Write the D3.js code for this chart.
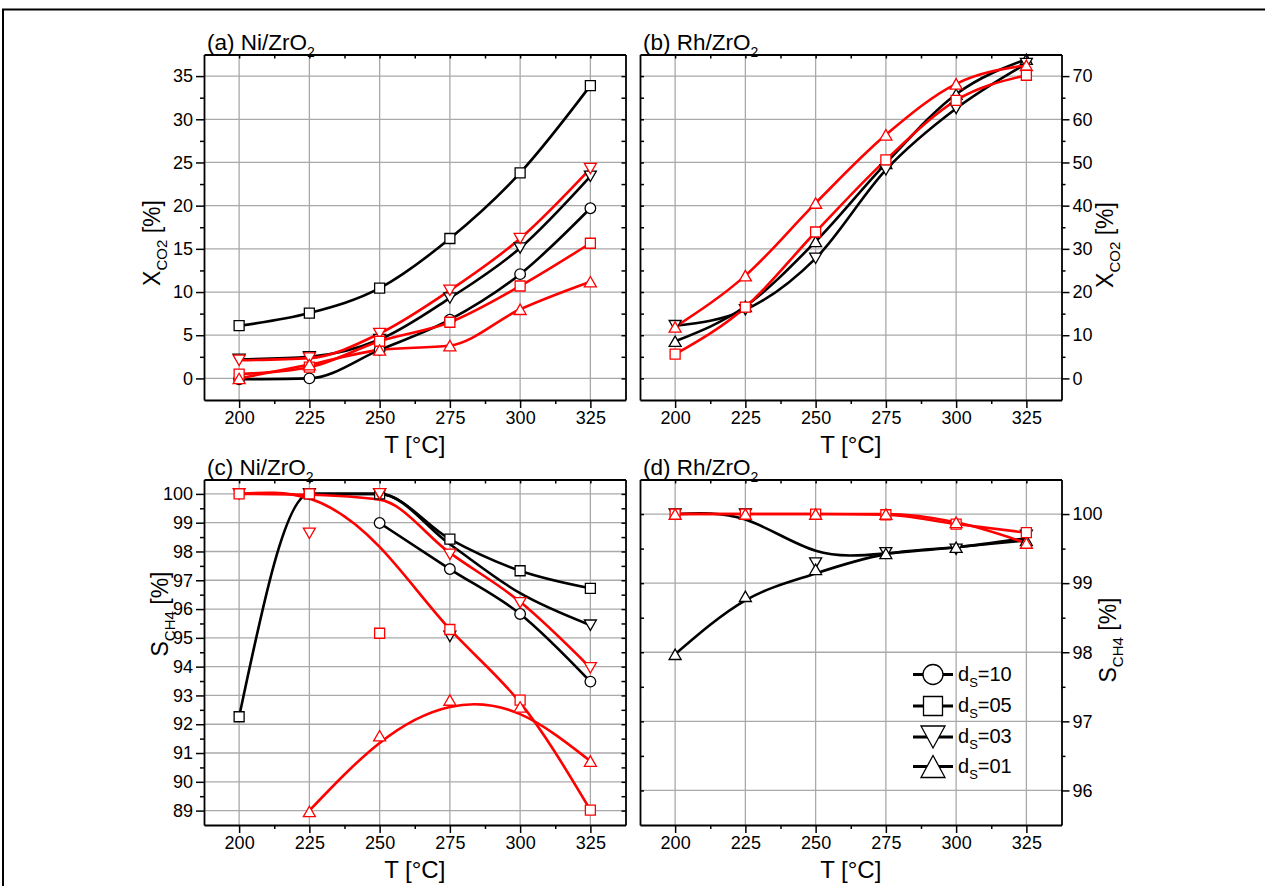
<!DOCTYPE html>
<html><head><meta charset="utf-8">
<script src="https://cdn.jsdelivr.net/npm/d3@7"></script>
<style>
body{margin:0;background:#fff}
text{font-family:"Liberation Sans",Arial,Helvetica,sans-serif;fill:#000}
</style>
</head><body>
<svg id="chart" width="1265" height="886"></svg>
<script>
// ---------------- DATA ----------------
const temps = [200, 225, 250, 275, 300, 325];
const xTicks = [200, 225, 250, 275, 300, 325];

// (a) Ni/ZrO2 — X_CO2 [%]
const aBlackSquare = [6.1, 7.56, 10.45, 16.2, 23.8, 33.9];
const aBlackDown   = [2.2, 2.5, 4.5, 9.3, 15.1, 23.4];
const aBlackCircle = [-0.1, 0.0, 3.3, 6.8, 12.07, 19.7];
const aRedDown     = [2.1, 2.35, 5.2, 10.2, 16.2, 24.3];
const aRedSquare   = [0.5, 1.3, 4.3, 6.5, 10.7, 15.65];
const aRedUp       = [0.0, 1.6, 3.3, 3.8, 8.0, 11.2];
const aYTicks = [0, 5, 10, 15, 20, 25, 30, 35];

// (b) Rh/ZrO2 — X_CO2 [%]
const bBlackUp     = [8.6, 16.7, 31.7, 49.8, 65.8, 73.9];
const bBlackDown   = [12.2, 15.9, 27.8, 48.3, 62.5, 72.9];
const bRedUp       = [11.9, 23.8, 40.6, 56.4, 68.2, 72.5];
const bRedSquare   = [5.6, 16.5, 33.9, 50.6, 64.4, 70.2];
const bYTicks = [0, 10, 20, 30, 40, 50, 60, 70];

// (c) Ni/ZrO2 — S_CH4 [%] (measured points and fitted curves)
const cBlackSquare     = [92.26, 100, 100, 98.43, 97.33, 96.72];
const cBlackCircle     = [null, null, 98.99, 97.39, 95.83, 93.48];
const cBlackDown       = [null, 100, 100, 95.05, null, 95.44];
const cBlackDownFit    = [null, 100, 100, 98.25, 96.55, 95.44];
const cRedDown         = [100, 98.63, 100, 97.9, 96.22, 93.96];
const cRedDownFit      = [100, 99.97, 99.8, 97.95, 96.25, 93.96];
const cRedSquare       = [100, 100, 95.16, 95.29, 92.84, 89.02];
const cRedSquareFit    = [100, 99.84, 98.16, 95.3, 92.75, 89.02];
const cRedUp           = [null, 88.97, 91.6, 92.84, 92.6, 90.72];
const cRedUpFit        = [null, 89.0, 91.35, 92.6, 92.35, 90.72];
const cYTicks = [89, 90, 91, 92, 93, 94, 95, 96, 97, 98, 99, 100];

// (d) Rh/ZrO2 — S_CH4 [%]
const dBlackDown    = [100, 100, 99.29, 99.44, 99.49, 99.69];
const dBlackDownFit = [100, 99.92, 99.47, 99.43, 99.52, 99.65];
const dBlackUp      = [97.97, 98.81, 99.2, 99.43, 99.52, 99.62];
const dBlackUpFit   = [97.97, 98.75, 99.14, 99.42, 99.52, 99.62];
const dRedSquare    = [100, 100, 100, 99.99, 99.855, 99.73];
const dRedUp        = [100, 100, 100, 100, 99.88, 99.58];
const dYTicks = [96, 97, 98, 99, 100];

const legendLabels = ["10", "05", "03", "01"];
const legendSymbols = ["circle", "square", "down", "up"];

// ---------------- LAYOUT ----------------
const RED = "#ff0000", BLACK = "#000000";
const svg = d3.select("#chart");

// outer figure frame
svg.append("rect").attr("x", 3).attr("y", 9.5).attr("width", 1300).attr("height", 900)
  .attr("fill", "none").attr("stroke", "#000").attr("stroke-width", 2);

function symPath(type, big) {
  const r = big ? 10 : 5.3, h = big ? 9.5 : 5, tw = big ? 12 : 6, th = big ? 11 : 5.2;
  switch (type) {
    case "circle": return `M${r},0A${r},${r} 0 1,1 ${-r},0A${r},${r} 0 1,1 ${r},0Z`;
    case "square": return `M${-h},${-h}H${h}V${h}H${-h}Z`;
    case "up": return `M0,${-th}L${tw},${th}L${-tw},${th}Z`;
    case "down": return `M0,${th}L${tw},${-th}L${-tw},${-th}Z`;
  }
}

const panels = [
  { x0: 204, x1: 625.5, y0: 54.5, y1: 400, yDomain: [-2.5, 37.5], yTicks: aYTicks, yMinorStep: 2.5,
    side: "left", title: "(a) Ni/ZrO", yTitle: ["X", "CO2", " [%]"], yTitleX: 160, yTitleY: 243,
    series: [
      { m: aBlackSquare, c: BLACK, s: "square" },
      { m: aBlackDown, c: BLACK, s: "down" },
      { m: aBlackCircle, c: BLACK, s: "circle" },
      { m: aRedDown, c: RED, s: "down" },
      { m: aRedSquare, c: RED, s: "square" },
      { m: aRedUp, c: RED, s: "up" } ] },
  { x0: 640, x1: 1061.5, y0: 54.5, y1: 400, yDomain: [-5, 75], yTicks: bYTicks, yMinorStep: 5,
    side: "right", title: "(b) Rh/ZrO", yTitle: ["X", "CO2", " [%]"], yTitleX: 1113, yTitleY: 245,
    series: [
      { m: bBlackUp, c: BLACK, s: "up" },
      { m: bBlackDown, c: BLACK, s: "down" },
      { m: bRedUp, c: RED, s: "up" },
      { m: bRedSquare, c: RED, s: "square" } ] },
  { x0: 204, x1: 625.5, y0: 479.5, y1: 825, yDomain: [88.5, 100.5], yTicks: cYTicks, yMinorStep: 0.5,
    side: "left", title: "(c) Ni/ZrO", yTitle: ["S", "CH4", " [%]"], yTitleX: 168, yTitleY: 614,
    series: [
      { m: cBlackSquare, c: BLACK, s: "square", mono: true },
      { m: cBlackDown, l: cBlackDownFit, c: BLACK, s: "down" },
      { m: cBlackCircle, c: BLACK, s: "circle" },
      { m: cRedDown, l: cRedDownFit, c: RED, s: "down", mono: true },
      { m: cRedSquare, l: cRedSquareFit, c: RED, s: "square", natural: true },
      { m: cRedUp, l: cRedUpFit, c: RED, s: "up", natural: true } ] },
  { x0: 640, x1: 1061.5, y0: 479.5, y1: 825, yDomain: [95.5, 100.5], yTicks: dYTicks, yMinorStep: 0.5,
    side: "right", title: "(d) Rh/ZrO", yTitle: ["S", "CH4", " [%]"], yTitleX: 1116, yTitleY: 640,
    series: [
      { m: dBlackDown, l: dBlackDownFit, c: BLACK, s: "down", natural: true },
      { m: dBlackUp, l: dBlackUpFit, c: BLACK, s: "up" },
      { m: dRedSquare, c: RED, s: "square", mono: true },
      { m: dRedUp, c: RED, s: "up", mono: true } ],
    legend: true }
];

panels.forEach(p => {
  const x = d3.scaleLinear().domain([187.5, 337.5]).range([p.x0, p.x1]);
  const y = d3.scaleLinear().domain(p.yDomain).range([p.y1, p.y0]);
  const g = svg.append("g");

  // grid
  g.selectAll(".gx").data(xTicks).join("line")
    .attr("x1", d => x(d)).attr("x2", d => x(d)).attr("y1", p.y0).attr("y2", p.y1)
    .attr("stroke", "#a9a9a9").attr("stroke-width", 1.3);
  g.selectAll(".gy").data(p.yTicks).join("line")
    .attr("y1", d => y(d)).attr("y2", d => y(d)).attr("x1", p.x0).attr("x2", p.x1)
    .attr("stroke", "#a9a9a9").attr("stroke-width", 1.3);

  // minor tick positions
  const xMinor = d3.range(212.5, 337.5, 25);
  const yMinor = [];
  for (let v = p.yDomain[0] + p.yMinorStep; v < p.yDomain[1] - 1e-9; v += p.yMinorStep) {
    if (!p.yTicks.some(t => Math.abs(t - v) < 1e-6)) yMinor.push(v);
  }

  const axG = svg.append("g").attr("stroke", "#000");
  // bottom (outward, labelled)
  axG.append("g").attr("transform", `translate(0,${p.y1})`)
    .call(d3.axisBottom(x).tickValues(xTicks).tickSize(8).tickFormat(d3.format("d")).tickSizeOuter(0))
    .call(a => a.select(".domain").attr("stroke-width", 1.8));
  axG.append("g").attr("transform", `translate(0,${p.y1})`)
    .call(d3.axisBottom(x).tickValues(xMinor).tickSize(4).tickFormat("").tickSizeOuter(0))
    .call(a => a.select(".domain").remove());
  // top (inward)
  axG.append("g").attr("transform", `translate(0,${p.y0})`)
    .call(d3.axisBottom(x).tickValues(xTicks.concat(xMinor)).tickSize(4).tickFormat("").tickSizeOuter(0))
    .call(a => a.select(".domain").attr("stroke-width", 1.8));

  // y axes
  const labX = p.side === "left" ? p.x0 : p.x1;
  const othX = p.side === "left" ? p.x1 : p.x0;
  const outAxis = p.side === "left" ? d3.axisLeft : d3.axisRight;
  const inAxis = p.side === "left" ? d3.axisLeft : d3.axisRight;
  axG.append("g").attr("transform", `translate(${labX},0)`)
    .call(outAxis(y).tickValues(p.yTicks).tickSize(8).tickFormat(d3.format("d")).tickSizeOuter(0))
    .call(a => a.select(".domain").attr("stroke-width", 1.8));
  axG.append("g").attr("transform", `translate(${labX},0)`)
    .call(outAxis(y).tickValues(yMinor).tickSize(4).tickFormat("").tickSizeOuter(0))
    .call(a => a.select(".domain").remove());
  axG.append("g").attr("transform", `translate(${othX},0)`)
    .call(inAxis(y).tickValues(p.yTicks.concat(yMinor)).tickSize(4).tickFormat("").tickSizeOuter(0))
    .call(a => a.select(".domain").attr("stroke-width", 1.8));

  axG.selectAll("text").attr("stroke", "none").attr("fill", "#000")
    .style("font-size", "18px").style("font-family", '"Liberation Sans",Arial,sans-serif');
  axG.selectAll(".tick line").attr("stroke-width", 1.5);

  // x title
  svg.append("text").attr("x", (p.x0 + p.x1) / 2).attr("y", p.y1 + 53)
    .attr("text-anchor", "middle").style("font-size", "24px").text("T [°C]");

  // panel title
  const t = svg.append("text").attr("x", p.x0 + 3).attr("y", p.y0 - 5).style("font-size", "22.5px");
  t.append("tspan").text(p.title);
  t.append("tspan").attr("dy", 7).style("font-size", "14px").text("2");

  // y title
  const yt = svg.append("text").attr("transform", `translate(${p.yTitleX},${p.yTitleY}) rotate(-90)`)
    .attr("text-anchor", "middle").style("font-size", "23px");
  yt.append("tspan").text(p.yTitle[0]);
  yt.append("tspan").attr("dy", 7).style("font-size", "15px").text(p.yTitle[1]);
  yt.append("tspan").attr("dy", -7).text(p.yTitle[2]);

  // lines then markers
  const order = p.series;
  order.forEach(s => {
    const ld = s.l || s.m;
    const curve = s.natural ? d3.curveNatural : d3.curveMonotoneX;
    const line = d3.line().x(d => x(d[0])).y(d => y(d[1])).curve(curve);
    g.append("path").datum(temps.map((t, i) => [t, ld[i]]).filter(d => d[1] != null))
      .attr("d", line).attr("fill", "none").attr("stroke", s.c).attr("stroke-width", 2.6);
  });
  order.forEach(s => {
    g.selectAll(null).data(temps.map((t, i) => [t, s.m[i]]).filter(d => d[1] != null)).join("path")
      .attr("transform", d => `translate(${x(d[0])},${y(d[1])})`)
      .attr("d", symPath(s.s, false)).attr("fill", "#fff").attr("stroke", s.c).attr("stroke-width", 1.3);
  });

  if (p.legend) {
    const ly = [674.5, 706, 737, 766.5];
    const lg = svg.append("g");
    legendLabels.forEach((lab, i) => {
      lg.append("line").attr("x1", 913).attr("x2", 953).attr("y1", ly[i]).attr("y2", ly[i])
        .attr("stroke", "#000").attr("stroke-width", 2.8);
      lg.append("path").attr("transform", `translate(933,${ly[i]})`).attr("d", symPath(legendSymbols[i], true))
        .attr("fill", "#fff").attr("stroke", "#000").attr("stroke-width", 1.3);
      const tx = lg.append("text").attr("x", 958).attr("y", ly[i] + 6).style("font-size", "20px");
      tx.append("tspan").text("d");
      tx.append("tspan").attr("dy", 6).style("font-size", "13px").text("S");
      tx.append("tspan").attr("dy", -6).text("=" + lab);
    });
  }
});
</script>
</body></html>
